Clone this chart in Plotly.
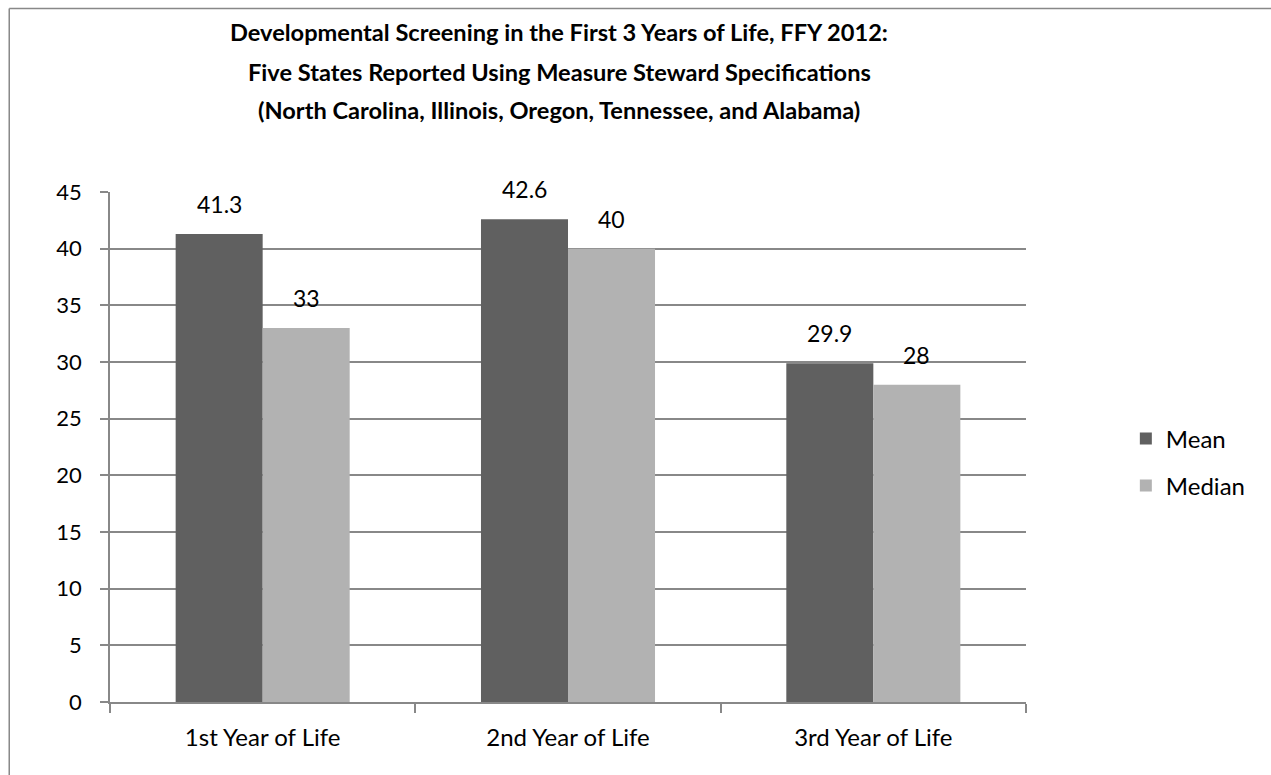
import plotly.graph_objects as go

categories = ["1st Year of Life", "2nd Year of Life", "3rd Year of Life"]
mean_values = [41.3, 42.6, 29.9]
median_values = [33, 40, 28]
mean_labels = ["41.3", "42.6", "29.9"]
median_labels = ["33", "40", "28"]
y_ticks = [0, 5, 10, 15, 20, 25, 30, 35, 40, 45]
title_lines = [
    "Developmental Screening in the First 3 Years of Life, FFY 2012:",
    "Five States Reported Using Measure Steward Specifications",
    "(North Carolina, Illinois, Oregon, Tennessee, and Alabama)",
]

FONT = "Lato, Open Sans, sans-serif"
MEAN_C = "#606060"
MEDIAN_C = "#B2B2B2"
GRID_C = "#888888"

fig = go.Figure()
fig.add_trace(go.Bar(x=categories, y=mean_values, name="Mean", marker_color=MEAN_C,
                     marker_line_width=0, legendgroup="a"))
fig.add_trace(go.Bar(x=categories, y=median_values, name="Median", marker_color=MEDIAN_C,
                     marker_line_width=0, legendgroup="b"))

annotations = []
for c, v, t in zip(categories, mean_values, mean_labels):
    annotations.append(dict(x=c, y=v, text=t, showarrow=False, xref="x", yref="y",
                            xshift=-43.5, yshift=14, yanchor="bottom",
                            font=dict(family=FONT, size=23, color="black")))
for c, v, t in zip(categories, median_values, median_labels):
    annotations.append(dict(x=c, y=v, text=t, showarrow=False, xref="x", yref="y",
                            xshift=43.5, yshift=14, yanchor="bottom",
                            font=dict(family=FONT, size=23, color="black")))

for line, yy in zip(title_lines, [1.3137, 1.2353, 1.1608]):
    annotations.append(dict(text="<b>" + line + "</b>", x=0.4907, y=yy,
                            xref="paper", yref="paper", xanchor="center", yanchor="middle",
                            showarrow=False,
                            font=dict(family=FONT, size=23.6, color="black")))

border = dict(color="#888888", width=1.5)
fig.update_layout(
    width=1271, height=775,
    margin=dict(l=110, r=245, t=192, b=73, autoexpand=False),
    paper_bgcolor="white", plot_bgcolor="white",
    barmode="group", bargap=0.43, bargroupgap=0,
    font=dict(family=FONT, size=22, color="black"),
    showlegend=True,
    legend=dict(x=1.109, y=0.47, xanchor="left", yanchor="middle",
                font=dict(family=FONT, size=24, color="black"),
                tracegroupgap=13, traceorder="grouped", bgcolor="rgba(0,0,0,0)"),
    annotations=annotations,
    shapes=[
        dict(type="line", xref="paper", yref="paper", x0=-0.110, x1=-0.110,
             y0=-0.2, y1=1.3598, line=border, layer="below"),
        dict(type="line", xref="paper", yref="paper", x0=-0.110, x1=1.4,
             y0=1.3598, y1=1.3598, line=border, layer="below"),
    ],
)
fig.update_xaxes(showline=True, linecolor=GRID_C, linewidth=1.5, ticks="outside",
                 tickson="boundaries", ticklen=9, tickcolor=GRID_C, tickwidth=1.5,
                 showgrid=False, tickfont=dict(family=FONT, size=24, color="black"),
                 ticklabelstandoff=13)
fig.update_yaxes(range=[0, 45], tickvals=y_ticks, showline=True, linecolor=GRID_C,
                 linewidth=1.5, ticks="outside", ticklen=8, tickcolor=GRID_C,
                 tickwidth=1.5, showgrid=True, gridcolor=GRID_C, gridwidth=1.5,
                 zeroline=False, tickfont=dict(family=FONT, size=22, color="black"),
                 ticklabelstandoff=14)

fig.write_html("out.html", config={"displayModeBar": False},
               post_script="document.body.style.margin='0';document.body.style.overflow='hidden';")
